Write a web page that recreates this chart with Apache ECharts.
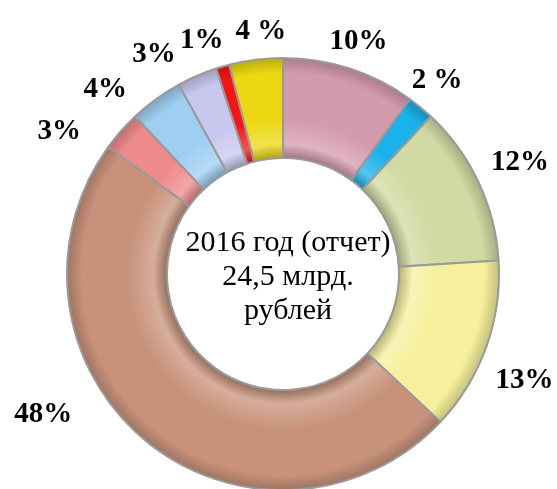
<!DOCTYPE html>
<html>
<head>
<meta charset="utf-8">
<script src="https://cdn.jsdelivr.net/npm/echarts@6/dist/echarts.min.js"></script>
<style>
  html, body { margin: 0; padding: 0; background: #fff; }
  #main { width: 557px; height: 489px; }
</style>
</head>
<body>
<div id="main"></div>
<script type="text/javascript">
// доли сегментов, по часовой стрелке от верха
var values = [10, 2, 12, 13, 48, 3, 4, 3, 1, 4];
var labelTexts = ['10%', '2 %', '12%', '13%', '48%', '3%', '4%', '3%', '1%', '4 %'];
var colors = ['#d49aae', '#19b2ea', '#d0daa2', '#f6f09c', '#c8927a',
              '#ee8a8c', '#9ecff2', '#c8c8ee', '#f81414', '#ecd812'];
var centerText = '2016 год (отчет)\n24,5 млрд.\nрублей';

// размещение подписей: расстояние от центра и сдвиг угла (градусы)
var labelR = [244, 247, 262, 264, 278, 265, 256, 255, 247, 243];
var labelShift = [0, -1, 0, 4, 20, -9, -8, -7, -3, 2];

var cx = 283, cy = 274, rIn = 116, rOut = 216;

function shade(hex, k) {
    var n = parseInt(hex.slice(1), 16);
    var r = (n >> 16) & 255, g = (n >> 8) & 255, b = n & 255;
    function f(c) {
        c = k < 0 ? c * (1 + k) : c + (255 - c) * k;
        return Math.max(0, Math.min(255, Math.round(c)));
    }
    return 'rgb(' + f(r) + ',' + f(g) + ',' + f(b) + ')';
}

var total = 0;
for (var i = 0; i < values.length; i++) total += values[i];
var midAngle = [];
var cum = 0;
for (var i = 0; i < values.length; i++) {
    midAngle.push((cum + values[i] / 2) / total * 360);
    cum += values[i];
}

var data = [];
for (var i = 0; i < values.length; i++) {
    var c = colors[i];
    data.push({
        value: values[i],
        itemStyle: {
            color: {
                type: 'radial', x: cx, y: cy, r: rOut, global: true,
                colorStops: [
                    { offset: 0, color: shade(c, -0.25) },
                    { offset: rIn / rOut, color: shade(c, -0.25) },
                    { offset: 0.6, color: shade(c, 0.25) },
                    { offset: 0.72, color: c },
                    { offset: 0.93, color: c },
                    { offset: 1, color: shade(c, -0.2) }
                ]
            }
        }
    });
}

var myChart = echarts.init(document.getElementById('main'));
var option = {
    backgroundColor: '#ffffff',
    animation: false,
    title: {
        text: centerText,
        left: cx,
        top: cy - 2,
        textAlign: 'center',
        textVerticalAlign: 'middle',
        textStyle: {
            fontFamily: 'Liberation Serif',
            fontWeight: 'normal',
            fontSize: 30,
            lineHeight: 34,
            color: '#000'
        }
    },
    series: [{
        type: 'pie',
        center: [cx, cy],
        radius: [rIn, rOut],
        startAngle: 90,
        clockwise: true,
        avoidLabelOverlap: false,
        itemStyle: {
            borderColor: '#9a9a9a',
            borderWidth: 2
        },
        label: {
            show: true,
            position: 'outside',
            formatter: function (p) { return labelTexts[p.dataIndex]; },
            fontFamily: 'Liberation Serif',
            fontWeight: 'bold',
            fontSize: 29,
            color: '#000'
        },
        labelLine: { show: false },
        labelLayout: function (p) {
            var i = p.dataIndex;
            var a = (midAngle[i] + labelShift[i]) * Math.PI / 180;
            return {
                x: cx + labelR[i] * Math.sin(a),
                y: cy - labelR[i] * Math.cos(a),
                align: 'center',
                verticalAlign: 'middle'
            };
        },
        emphasis: { disabled: true },
        data: data
    }]
};
myChart.setOption(option);
</script>
</body>
</html>
